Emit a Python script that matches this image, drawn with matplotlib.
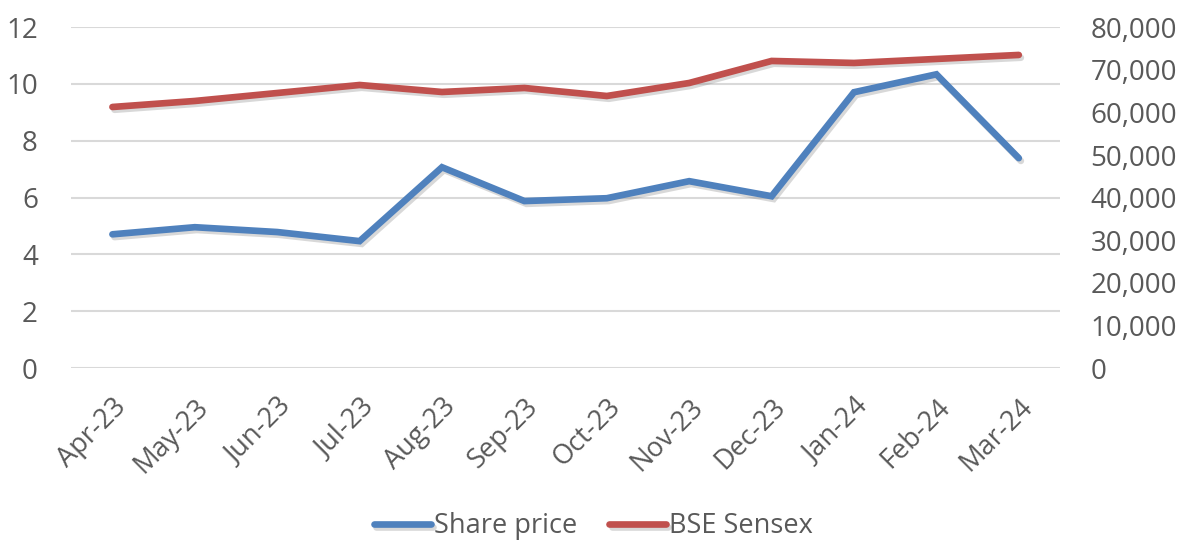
import matplotlib
matplotlib.use("Agg")
import matplotlib.pyplot as plt
import matplotlib.patheffects as pe
from matplotlib.ticker import FuncFormatter

months = ["Apr-23", "May-23", "Jun-23", "Jul-23", "Aug-23", "Sep-23",
          "Oct-23", "Nov-23", "Dec-23", "Jan-24", "Feb-24", "Mar-24"]
share_price = [4.71, 4.96, 4.79, 4.47, 7.07, 5.88, 5.98, 6.58, 6.05, 9.71, 10.34, 7.39]
sensex = [61270, 62680, 64550, 66430, 64790, 65730, 63850, 66900, 72070, 71600, 72540, 73480]

plt.rcParams['font.family'] = ['Open Sans', 'DejaVu Sans']
text_color = '#595959'

fig = plt.figure(figsize=(11.87, 5.43), dpi=100)
ax = fig.add_axes([0.060, 0.322, 0.833, 0.628])
ax2 = ax.twinx()

x = list(range(len(months)))
shadow = [pe.SimpleLineShadow(offset=(1.5, -2), alpha=0.3, shadow_color='gray'), pe.Normal()]
l1, = ax.plot(x, share_price, color='#4F81BD', lw=4.8, solid_capstyle='round',
              solid_joinstyle='miter', path_effects=shadow, label='Share price', zorder=3)
l2, = ax2.plot(x, sensex, color='#C0504D', lw=4.8, solid_capstyle='round',
               solid_joinstyle='miter', path_effects=shadow, label='BSE Sensex', zorder=3)

ax.set_xlim(-0.5, 11.5)
ax.set_ylim(0, 12)
ax.set_yticks(range(0, 13, 2))
ax2.set_ylim(0, 80000)
ax2.set_yticks(range(0, 80001, 10000))
ax2.yaxis.set_major_formatter(FuncFormatter(lambda v, p: f"{int(v):,}"))

ax.grid(axis='y', color='#D9D9D9', lw=1.5)
ax.set_axisbelow(True)
for a in (ax, ax2):
    for s in a.spines.values():
        s.set_visible(False)
    a.tick_params(length=0, labelsize=20, colors=text_color)
ax.tick_params(axis='y', pad=24)
ax2.tick_params(axis='y', pad=22)
ax.set_xticks(x)
ax.set_xticklabels(months, rotation=45, ha='right', rotation_mode='anchor')
ax.tick_params(axis='x', labelsize=19.5, pad=18)

fig.legend(handles=[l1, l2], loc='lower center', bbox_to_anchor=(0.5, -0.04), ncol=2,
           frameon=False, fontsize=19.5, labelcolor=text_color, handlelength=2.1,
           handletextpad=0.1, columnspacing=1.2)

fig.savefig("out.png", dpi=100)
